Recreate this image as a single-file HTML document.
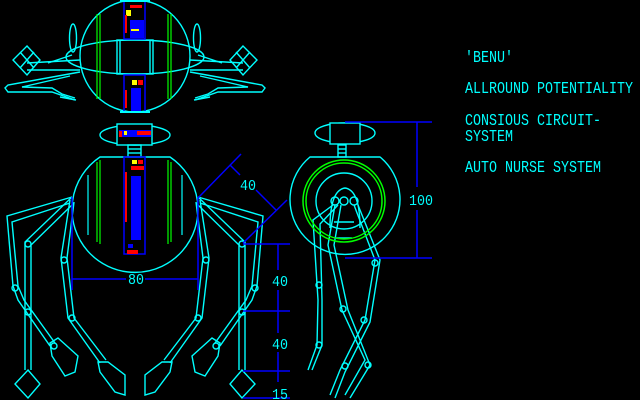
<!DOCTYPE html>
<html><head><style>
html,body{margin:0;padding:0;background:#000;width:640px;height:400px;overflow:hidden}
svg{display:block}
text{font-family:"Liberation Mono",monospace;fill:#00ffff}
</style></head><body>
<svg width="640" height="400" viewBox="0 0 640 400" xmlns="http://www.w3.org/2000/svg">
<defs>
<g id="arm" fill="none" stroke="#00ffff" stroke-width="1.4">
  <ellipse cx="73" cy="38" rx="3.5" ry="14"/>
  <polygon points="27,46 40,60 27,75 13,60"/>
  <line x1="20" y1="52" x2="34" y2="68"/><line x1="34" y1="52" x2="20" y2="68"/>
  <line x1="27" y1="63" x2="80" y2="60"/><line x1="27" y1="70" x2="80" y2="70"/>
  <line x1="48" y1="63" x2="72" y2="55"/>
  <polyline points="80,72 8,85 5,88 8,92 52,92 75,100"/>
  <polyline points="70,76 22,87 52,88 62,94 75,98"/>
  <line x1="60" y1="97" x2="76" y2="100"/>
</g>
<g id="legs" fill="none" stroke="#00ffff" stroke-width="1.4">
  <!-- outer leg -->
  <polyline points="72,197 7,216 13,286 18,300 50,346"/>
  <polyline points="70,203 12,222 18,286 24,300 55,343"/>
  <polygon points="50,343 58,338 78,356 75,372 65,376 52,356"/>
  <circle cx="15" cy="288" r="3"/>
  <circle cx="54" cy="346" r="3"/>
  <!-- vertical leg -->
  <polyline points="72,197 25,242 25,370"/>
  <polyline points="74,203 31,245 31,370"/>
  <circle cx="28" cy="244" r="3"/><circle cx="28" cy="312" r="3"/>
  <polygon points="28,370 40,384 28,398 15,384"/>
  <!-- inner leg -->
  <polyline points="70,200 61,258 68,318 100,363"/>
  <polyline points="74,202 67,258 74,318 106,360"/>
  <circle cx="64" cy="260" r="3"/><circle cx="72" cy="318" r="3"/>
  <polygon points="98,362 108,362 125,375 125,395 115,392 100,372"/>
</g>
</defs>

<!-- TOP HEAD -->
<g fill="none" stroke="#00ffff" stroke-width="1.4">
  <ellipse cx="135" cy="56" rx="55" ry="56"/>
  <ellipse cx="135" cy="57" rx="69" ry="17"/>
  <rect x="117" y="40" width="36" height="34"/>
  <line x1="120" y1="40" x2="120" y2="74"/><line x1="150" y1="40" x2="150" y2="74"/>
</g>
<g stroke="#00ff00" stroke-width="1.2">
  <line x1="97" y1="14" x2="97" y2="99"/><line x1="100" y1="14" x2="100" y2="99"/>
  <line x1="168" y1="14" x2="168" y2="99"/><line x1="171" y1="14" x2="171" y2="99"/>
</g>
<rect x="124" y="1" width="21" height="38" fill="none" stroke="#0000ff" stroke-width="1.5"/>
<rect x="130" y="20" width="14" height="18" fill="#0000ff"/>
<rect x="130" y="5" width="12" height="3" fill="#ff0000"/>
<rect x="126" y="10" width="5" height="6" fill="#ffff00"/>
<rect x="125" y="15" width="2" height="18" fill="#ff0000"/>
<rect x="131" y="29" width="8" height="2" fill="#ffff00"/>
<rect x="124" y="75" width="21" height="37" fill="none" stroke="#0000ff" stroke-width="1.5"/>
<rect x="131" y="88" width="10" height="24" fill="#0000ff"/>
<rect x="132" y="80" width="5" height="5" fill="#ffff00"/>
<rect x="138" y="80" width="5" height="5" fill="#ff0000"/>
<rect x="125" y="90" width="2" height="18" fill="#ff0000"/>
<rect x="120" y="0" width="30" height="2" fill="#00ffff"/>
<rect x="120" y="111" width="30" height="2" fill="#00ffff"/>

<use href="#arm"/>
<use href="#arm" transform="translate(270,0) scale(-1,1)"/>

<!-- NECK -->
<g fill="none" stroke="#00ffff" stroke-width="1.4">
  <ellipse cx="135" cy="135" rx="35" ry="10"/>
  <rect x="117" y="124" width="35" height="21" fill="#000"/>
  <rect x="128" y="145" width="13" height="12"/>
  <line x1="128" y1="149" x2="141" y2="149"/><line x1="128" y1="153" x2="141" y2="153"/>
</g>
<rect x="119" y="130" width="32" height="7" fill="#0000ff"/>
<rect x="119" y="131" width="3" height="6" fill="#ff0000"/>
<rect x="124" y="131" width="3" height="4" fill="#ffff00"/>
<rect x="137" y="131" width="14" height="4" fill="#ff0000"/>

<!-- BODY -->
<path d="M100,157 L170,157 A63,63 0 1 1 100,157 Z" fill="none" stroke="#00ffff" stroke-width="1.4"/>
<path d="M100,157 A63,63 0 0 0 110,252" fill="none"/>
<g stroke="#00ff00" stroke-width="1.2">
  <line x1="97" y1="162" x2="97" y2="242"/><line x1="100" y1="160" x2="100" y2="244"/>
  <line x1="168" y1="160" x2="168" y2="244"/><line x1="171" y1="162" x2="171" y2="242"/>
</g>
<g stroke="#00ffff" stroke-width="1.2" fill="none">
  <line x1="88" y1="175" x2="88" y2="235"/><line x1="182" y1="175" x2="182" y2="235"/>
</g>
<rect x="124" y="157" width="21" height="97" fill="none" stroke="#0000ff" stroke-width="1.5"/>
<rect x="131" y="176" width="10" height="64" fill="#0000ff"/>
<rect x="132" y="160" width="5" height="4" fill="#ffff00"/>
<rect x="138" y="160" width="5" height="4" fill="#ff0000"/>
<rect x="131" y="166" width="13" height="4" fill="#ff0000"/>
<rect x="125" y="172" width="2" height="50" fill="#ff0000"/>
<rect x="128" y="244" width="5" height="4" fill="#0000ff"/>
<rect x="127" y="250" width="11" height="4" fill="#ff0000"/>

<use href="#legs"/>
<use href="#legs" transform="translate(270,0) scale(-1,1)"/>

<!-- DIMENSIONS front -->
<g stroke="#0000ff" stroke-width="1.5" fill="none">
  <line x1="72" y1="197" x2="72" y2="290"/><line x1="198" y1="197" x2="198" y2="290"/>
  <line x1="72" y1="279" x2="126" y2="279"/><line x1="145" y1="279" x2="198" y2="279"/>
  <line x1="198" y1="198" x2="241" y2="154"/>
  <line x1="243" y1="243" x2="287" y2="200"/>
  <line x1="230" y1="165" x2="240" y2="175"/><line x1="256" y1="190" x2="276" y2="210"/>
  <line x1="243" y1="244" x2="290" y2="244"/>
  <line x1="243" y1="311" x2="290" y2="311"/>
  <line x1="243" y1="371" x2="290" y2="371"/>
  <line x1="243" y1="398" x2="290" y2="398"/>
  <line x1="278" y1="244" x2="278" y2="270"/><line x1="278" y1="290" x2="278" y2="333"/>
  <line x1="278" y1="352" x2="278" y2="382"/>
</g>
<g font-size="15">
  <text x="128" y="284" textLength="16" lengthAdjust="spacingAndGlyphs">80</text>
  <text x="240" y="190" textLength="16" lengthAdjust="spacingAndGlyphs">40</text>
  <text x="272" y="286" textLength="16" lengthAdjust="spacingAndGlyphs">40</text>
  <text x="272" y="349" textLength="16" lengthAdjust="spacingAndGlyphs">40</text>
  <text x="272" y="399" textLength="16" lengthAdjust="spacingAndGlyphs">15</text>
  <text x="409" y="205" textLength="24" lengthAdjust="spacingAndGlyphs">100</text>
</g>

<!-- SIDE VIEW -->
<g fill="none" stroke="#00ffff" stroke-width="1.4">
  <ellipse cx="345" cy="133" rx="30" ry="10"/>
  <rect x="330" y="123" width="30" height="21" fill="#000"/>
  <rect x="338" y="145" width="8" height="12"/>
  <line x1="338" y1="149" x2="346" y2="149"/><line x1="338" y1="153" x2="346" y2="153"/>
  <path d="M310,157 L380,157 A55,55 0 1 1 310,157 Z"/>
  <circle cx="344" cy="201" r="28"/>
  <path d="M330,228 Q330,190 345,188 Q360,190 360,228"/>
  <circle cx="335" cy="201" r="4"/><circle cx="344" cy="201" r="4"/><circle cx="354" cy="201" r="4"/>
  <line x1="334" y1="222" x2="354" y2="222"/><line x1="336" y1="238" x2="352" y2="238"/>
  <polyline points="333,205 313,220 318,300 317,345 308,370"/>
  <polyline points="338,205 320,224 322,300 322,345 312,370"/>
  <circle cx="319" cy="285" r="3"/><circle cx="319" cy="345" r="3"/>
  <polyline points="335,205 328,245 342,310 365,360 345,395"/>
  <polyline points="341,205 334,245 348,310 370,365 350,398"/>
  <circle cx="343" cy="309" r="3"/><circle cx="368" cy="365" r="3"/>
  <polyline points="354,205 375,260 365,320 340,370 330,395"/>
  <polyline points="358,205 380,260 370,322 345,372 335,398"/>
  <circle cx="375" cy="263" r="3"/><circle cx="364" cy="320" r="3"/><circle cx="345" cy="366" r="3"/>
</g>
<g fill="none" stroke="#00ff00" stroke-width="1.5">
  <circle cx="344" cy="201" r="41"/>
  <circle cx="344" cy="201" r="38"/>
</g>
<g stroke="#0000ff" stroke-width="1.5">
  <line x1="345" y1="122" x2="432" y2="122"/>
  <line x1="345" y1="258" x2="432" y2="258"/>
  <line x1="417" y1="122" x2="417" y2="187"/><line x1="417" y1="210" x2="417" y2="258"/>
</g>

<!-- TEXT -->
<g font-size="17">
  <text x="465" y="62" textLength="48" lengthAdjust="spacingAndGlyphs">'BENU'</text>
  <text x="465" y="93" textLength="168" lengthAdjust="spacingAndGlyphs">ALLROUND POTENTIALITY</text>
  <text x="465" y="125" textLength="136" lengthAdjust="spacingAndGlyphs">CONSIOUS CIRCUIT-</text>
  <text x="465" y="141" textLength="48" lengthAdjust="spacingAndGlyphs">SYSTEM</text>
  <text x="465" y="172" textLength="136" lengthAdjust="spacingAndGlyphs">AUTO NURSE SYSTEM</text>
</g>
</svg>
</body></html>
